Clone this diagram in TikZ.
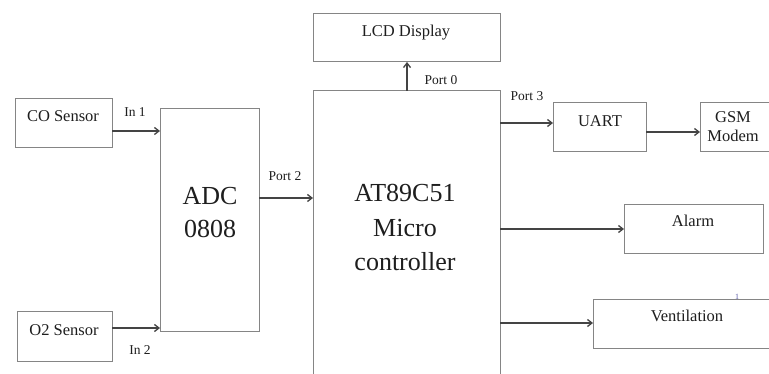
\documentclass[tikz,border=0pt]{standalone}
\usepackage{fontspec}
\setmainfont{Liberation Serif}
\usetikzlibrary{arrows.meta}
\definecolor{boxgray}{HTML}{858585}
\definecolor{arrgray}{HTML}{444444}
\definecolor{txt}{HTML}{1E1E1E}
\begin{document}
\begin{tikzpicture}[x=1pt,y=-1pt,
  box/.style={draw=boxgray,line width=1pt,anchor=north west,inner sep=0pt,outer sep=0pt},
  conn/.style={draw=arrgray,line width=1.6pt,-{Straight Barb[length=4.5pt,width=7pt,line width=1.3pt]}},
  boxtext/.style={text=txt,font=\fontsize{16.5}{18}\selectfont,anchor=base,inner sep=0pt},
  lbl/.style={text=txt,font=\fontsize{13.5}{15}\selectfont,anchor=base,inner sep=0pt},
  bigtext/.style={text=txt,font=\fontsize{26}{30}\selectfont,anchor=base,inner sep=0pt}]
\clip (0,0) rectangle (769,374);
\fill[white] (0,0) rectangle (769,374);
% boxes
\node[box,minimum width=97,minimum height=49] (co) at (15,99) {};
\node[box,minimum width=95,minimum height=49] (o2) at (17,312) {};
\node[box,minimum width=99,minimum height=223] (adc) at (160,109) {};
\node[box,minimum width=187,minimum height=320] (mc) at (313,91) {};
\node[box,minimum width=187,minimum height=48] (lcd) at (313,14) {};
\node[box,minimum width=93,minimum height=49] (uart) at (553,103) {};
\node[box,minimum width=80,minimum height=49] (gsm) at (700,103) {};
\node[box,minimum width=139,minimum height=49] (alarm) at (624,205) {};
\node[box,minimum width=190,minimum height=48] (vent) at (593,300) {};
% texts
\node[boxtext] (tco) at (63,122) {CO Sensor};
\node[boxtext] (to2) at (64,336) {O2 Sensor};
\node[boxtext] (tlcd) at (406,37) {LCD Display};
\node[boxtext] (tuart) at (600,127) {UART};
\node[boxtext] (tgsm) at (733,123) {GSM};
\node[boxtext] (tmodem) at (733,142) {Modem};
\node[boxtext] (talarm) at (693,227) {Alarm};
\node[boxtext] (tvent) at (687,322) {Ventilation};
\node[bigtext] (tadc1) at (210,205) {ADC};
\node[bigtext] (tadc2) at (210,238) {0808};
\node[bigtext] (tmc1) at (405,202) {AT89C51};
\node[bigtext] (tmc2) at (405,237) {Micro};
\node[bigtext] (tmc3) at (405,271) {controller};
\node[lbl] (lin1) at (135,117) {In 1};
\node[lbl] (lin2) at (140,354) {In 2};
\node[lbl] (lp2) at (285,181) {Port 2};
\node[lbl] (lp0) at (441,85) {Port 0};
\node[lbl] (lp3) at (527,101) {Port 3};
\node[text=boxgray!70!blue,font=\fontsize{8}{9}\selectfont,inner sep=0pt] (mark) at (737,297) {1};
% connectors
\coordinate (a1) at (112,131);
\draw[conn] (co.east |- a1) -- (adc.west |- a1);
\coordinate (a2) at (112,328);
\draw[conn] (o2.east |- a2) -- (adc.west |- a2);
\coordinate (a3) at (259,198);
\draw[conn] (adc.east |- a3) -- (mc.west |- a3);
\coordinate (a4) at (407,91);
\draw[conn] (mc.north -| a4) -- (lcd.south -| a4);
\coordinate (a5) at (500,123);
\draw[conn] (mc.east |- a5) -- (uart.west |- a5);
\coordinate (a6) at (646,132);
\draw[conn] (uart.east |- a6) -- (gsm.west |- a6);
\coordinate (a7) at (500,229);
\draw[conn] (mc.east |- a7) -- (alarm.west |- a7);
\coordinate (a8) at (500,323);
\draw[conn] (mc.east |- a8) -- (vent.west |- a8);
\end{tikzpicture}
\end{document}
